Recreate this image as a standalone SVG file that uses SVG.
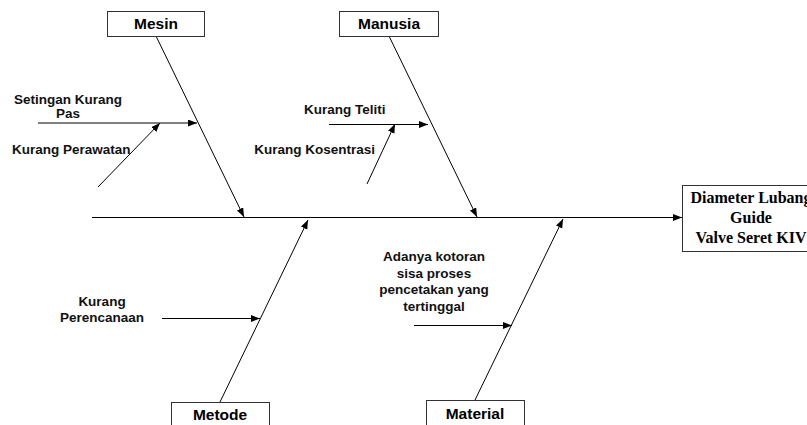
<svg xmlns="http://www.w3.org/2000/svg" width="807" height="425" viewBox="0 0 807 425">
<style>
.box{fill:#fff;stroke:#333;stroke-width:1}
.ln{stroke:#000;stroke-width:1;fill:none}
.lbl{font-family:"Liberation Sans",Arial,sans-serif;font-weight:bold;font-size:15.5px;fill:#000;text-anchor:middle}
.t{font-family:"Liberation Sans",Arial,sans-serif;font-weight:bold;font-size:13.5px;fill:#111}
.eff{font-family:"Liberation Serif","Times New Roman",serif;font-weight:bold;font-size:16px;fill:#000;text-anchor:middle}
</style>
<defs>
<marker id="ah" markerUnits="userSpaceOnUse" markerWidth="10" markerHeight="8" refX="9" refY="3.5" orient="auto">
<path d="M0,0 L9,3.5 L0,7 z" fill="#000"/>
</marker>
</defs>
<g id="connectors">
<line class="ln" x1="92" y1="217.5" x2="682" y2="217.5" marker-end="url(#ah)"/>
<line class="ln" x1="156" y1="36" x2="244" y2="217" marker-end="url(#ah)"/>
<line class="ln" x1="389" y1="36" x2="477" y2="217" marker-end="url(#ah)"/>
<line class="ln" x1="220" y1="402" x2="308" y2="220" marker-end="url(#ah)"/>
<line class="ln" x1="475" y1="400" x2="563" y2="219" marker-end="url(#ah)"/>
<line class="ln" x1="38" y1="123" x2="197" y2="123" marker-end="url(#ah)"/>
<line class="ln" x1="98" y1="187" x2="160" y2="123" marker-end="url(#ah)"/>
<line class="ln" x1="329" y1="124.5" x2="428" y2="124.5" marker-end="url(#ah)"/>
<line class="ln" x1="367" y1="184" x2="395" y2="124" marker-end="url(#ah)"/>
<line class="ln" x1="162" y1="318.5" x2="260" y2="318.5" marker-end="url(#ah)"/>
<line class="ln" x1="414" y1="325.5" x2="512" y2="325.5" marker-end="url(#ah)"/>
</g>
<g id="mesin">
<rect class="box" x="107.5" y="11.5" width="97" height="25"/>
<text class="lbl" x="156" y="29">Mesin</text>
</g>
<g id="manusia">
<rect class="box" x="339.5" y="11.5" width="99" height="25"/>
<text class="lbl" x="389" y="29">Manusia</text>
</g>
<g id="metode">
<rect class="box" x="171.5" y="402.5" width="98" height="30"/>
<text class="lbl" x="220" y="420">Metode</text>
</g>
<g id="material">
<rect class="box" x="426.5" y="400.5" width="98" height="30"/>
<text class="lbl" x="475" y="418.5">Material</text>
</g>
<g id="effect">
<rect class="box" x="682.5" y="185.5" width="140" height="66"/>
<text class="eff" x="751" y="203">Diameter Lubang</text>
<text class="eff" x="751" y="223">Guide</text>
<text class="eff" x="751" y="243">Valve Seret KIV</text>
</g>
<g id="setingan">
<text class="t" x="68" y="104" text-anchor="middle">Setingan Kurang</text>
<text class="t" x="68" y="117.5" text-anchor="middle">Pas</text>
</g>
<g id="perawatan">
<text class="t" x="12" y="154">Kurang Perawatan</text>
</g>
<g id="teliti">
<text class="t" x="304" y="114">Kurang Teliti</text>
</g>
<g id="kosentrasi">
<text class="t" x="375" y="154" text-anchor="end">Kurang Kosentrasi</text>
</g>
<g id="perencanaan">
<text class="t" x="102" y="306" text-anchor="middle">Kurang</text>
<text class="t" x="102" y="322" text-anchor="middle">Perencanaan</text>
</g>
<g id="kotoran">
<text class="t" x="434" y="261" text-anchor="middle">Adanya kotoran</text>
<text class="t" x="434" y="277.5" text-anchor="middle">sisa proses</text>
<text class="t" x="434" y="294" text-anchor="middle">pencetakan yang</text>
<text class="t" x="434" y="310.5" text-anchor="middle">tertinggal</text>
</g>
</svg>
